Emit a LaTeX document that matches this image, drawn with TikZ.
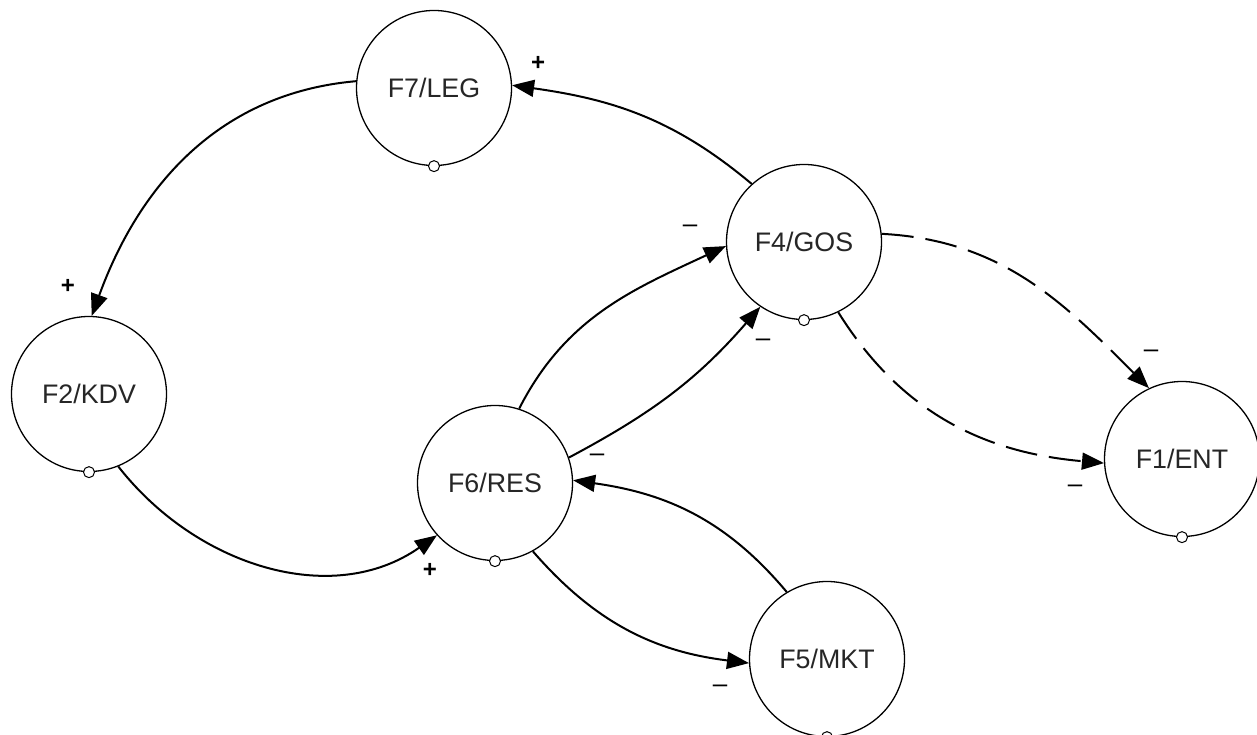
\documentclass[tikz,border=0pt]{standalone}
\usepackage{fontspec}
\setmainfont{Liberation Sans}
\usetikzlibrary{arrows.meta}
\begin{document}
\begin{tikzpicture}[x=0.5pt,y=0.5pt,
  factor/.style={circle, draw=black, line width=0.65pt, minimum size=77.5pt,
    inner sep=0pt, font=\fontsize{13.4}{15}\selectfont, text=black!85},
  port/.style={circle, draw=black, fill=white, line width=0.5pt,
    minimum size=5.5pt, inner sep=0pt},
  link/.style={line width=1pt, -{Triangle[length=11pt,width=8.5pt]}},
  weak/.style={link, dash pattern=on 16pt off 6pt},
  plussign/.style={inner sep=0pt, font=\fontsize{12}{14}\selectfont\bfseries},
  minussign/.style={inner sep=0pt, font=\fontsize{13}{14}\selectfont},
]
\useasboundingbox (0,0) rectangle (1257,734);

% factors
\node[factor] (f7) at (434,646) {F7/LEG};
\node[factor] (f4) at (804,492) {F4/GOS};
\node[factor] (f2) at (89,340)  {F2/KDV};
\node[factor] (f6) at (495,251) {F6/RES};
\node[factor] (f1) at (1182,275) {F1/ENT};
\node[factor] (f5) at (827,75)  {F5/MKT};

% influences
\draw[link] (f4.132) to[out=140,in=-8]   (f7.2);
\draw[link] (f7.175) to[out=185,in=70]   (f2.88);
\draw[link] (f2.-68) to[out=-52,in=-145] (f6.-138);
\draw[link] (f6.72)  to[out=63,in=205]   (f4.183);
\draw[link] (f6.19)  to[out=28,in=229]   (f4.-124);
\draw[link] (f5.121) to[out=130,in=-8]   (f6.2);
\draw[link] (f6.-61) to[out=-49,in=173]  (f5.183);
\draw[weak] (f4.6)   to[out=-3,in=135]   (f1.115);
\draw[weak] (f4.-64) to[out=-58,in=175]  (f1.183);

% output ports
\foreach \f in {f7,f4,f2,f6,f1,f5}
  \node[port] (\f p) at (\f.south) {};

% signs
\node[plussign] (s1) at (538,671) {+};
\node[plussign] (s2) at (68,448)  {+};
\node[plussign] (s3) at (430,164) {+};
\node[minussign] (s4) at (690,505) {–};
\node[minussign] (s5) at (763,391) {–};
\node[minussign] (s6) at (597,276) {–};
\node[minussign] (s7) at (720,45)  {–};
\node[minussign] (s8) at (1151,380) {–};
\node[minussign] (s9) at (1075,245) {–};
\end{tikzpicture}
\end{document}
